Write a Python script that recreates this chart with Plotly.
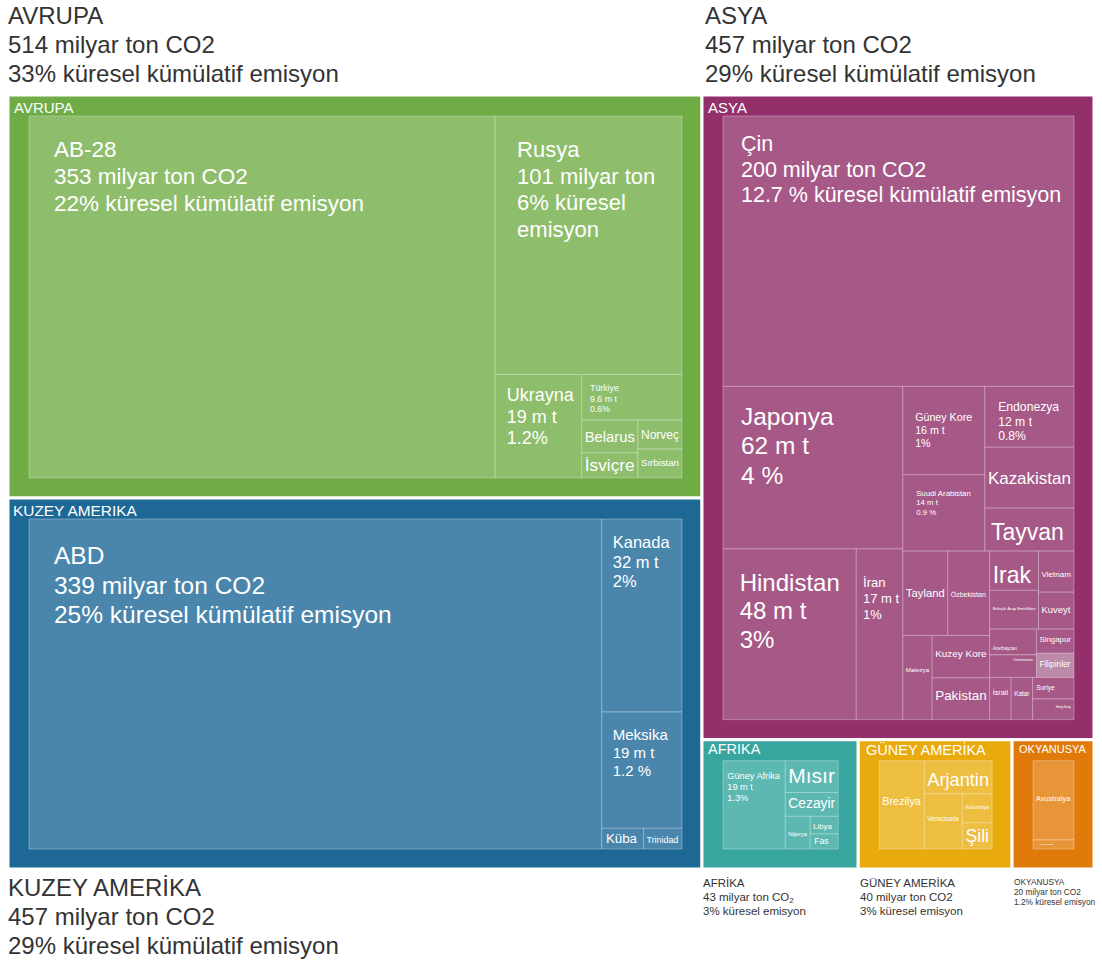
import math
import plotly.graph_objects as go

FONT = "Liberation Sans, Arial, Helvetica, sans-serif"

# ---------------------------------------------------------------- data
continents = ["AVRUPA", "KUZEY AMERIKA", "ASYA", "AFRIKA", "GÜNEY AMERİKA", "OKYANUSYA"]

europe = ["AB-28", "Rusya", "Ukrayna", "Türkiye", "Belarus", "İsviçre", "Norveç", "Sırbistan"]
europe_values = [358, 102.5, 19, 9.7, 3.9, 3.0, 2.7, 2.7]

north_america = ["ABD", "Kanada", "Meksika", "Küba", "Trinidad"]
north_america_values = [405, 33.2, 20, 1.85, 1.7]

asia = ["Çin", "Japonya", "Hindistan", "İran", "Güney Kore", "Suudi Arabistan",
        "Endonezya", "Kazakistan", "Tayvan", "Tayland", "Özbekistan", "Malezya",
        "Kuzey Kore", "Pakistan", "Irak", "Birleşik Arap Emirlikleri", "Vietnam",
        "Kuveyt", "Azerbaycan", "Türkmenistan", "Singapur", "Filipinler", "İsrail",
        "Katar", "Suriye", "Hong Kong"]
asia_values = [203, 62.5, 48.7, 17.0, 15.5, 13.4, 11.6, 11.6, 8.2, 8.1, 7.55, 5.28,
               5.21, 5.13, 4.1, 4.05, 3.12, 2.8, 2.58, 2.26, 1.94, 1.94, 1.94,
               1.94, 1.9, 1.83]

africa = ["Güney Afrika", "Mısır", "Cezayir", "Nijerya", "Libya", "Fas"]
africa_values = [19.6, 6.0, 4.5, 2.9, 1.75, 1.5]

south_america = ["Brezilya", "Arjantin", "Venezuela", "Kolombiya", "Şili"]
south_america_values = [14.27, 8.04, 7.52, 3.10, 2.77]

oceania = ["Avustralya", "Yeni Zelanda"]
oceania_values = [17.05, 1.95]

members = {
    "AVRUPA": (europe, europe_values),
    "KUZEY AMERIKA": (north_america, north_america_values),
    "ASYA": (asia, asia_values),
    "AFRIKA": (africa, africa_values),
    "GÜNEY AMERİKA": (south_america, south_america_values),
    "OKYANUSYA": (oceania, oceania_values),
}

# multi-line cell labels (others show just the name)
cell_lines = {
    "AB-28": ["AB-28", "353 milyar ton CO2", "22% küresel kümülatif emisyon"],
    "Rusya": ["Rusya", "101 milyar ton", "6% küresel", "emisyon"],
    "Ukrayna": ["Ukrayna", "19 m t", "1.2%"],
    "Türkiye": ["Türkiye", "9.6 m t", "0.6%"],
    "ABD": ["ABD", "339 milyar ton CO2", "25% küresel kümülatif emisyon"],
    "Kanada": ["Kanada", "32 m t", "2%"],
    "Meksika": ["Meksika", "19 m t", "1.2 %"],
    "Çin": ["Çin", "200 milyar ton CO2", "12.7 % küresel kümülatif emisyon"],
    "Japonya": ["Japonya", "62 m t", "4 %"],
    "Hindistan": ["Hindistan", "48 m t", "3%"],
    "İran": ["İran", "17 m t", "1%"],
    "Güney Kore": ["Güney Kore", "16 m t", "1%"],
    "Endonezya": ["Endonezya", "12 m t", "0.8%"],
    "Suudi Arabistan": ["Suudi Arabistan", "14 m t", "0.9 %"],
    "Güney Afrika": ["Güney Afrika", "19 m t", "1.3%"],
}

# captions outside the treemap
caption_titles = ["AVRUPA", "ASYA", "KUZEY AMERİKA", "AFRİKA", "GÜNEY AMERİKA", "OKYANUSYA"]
caption_amounts = ["514 milyar ton CO2", "457 milyar ton CO2", "457 milyar ton CO2",
                   "43 milyar ton CO<sub>2</sub>", "40 milyar ton CO2", "20 milyar ton CO2"]
caption_shares = ["33% küresel kümülatif emisyon", "29% küresel kümülatif emisyon",
                  "29% küresel kümülatif emisyon", "3% küresel emisyon",
                  "3% küresel emisyon", "1.2% küresel emisyon"]

# ---------------------------------------------------------------- styles
outer_color = {"AVRUPA": "#6fac45", "KUZEY AMERIKA": "#1e6896", "ASYA": "#93306c",
               "AFRIKA": "#39a59f", "GÜNEY AMERİKA": "#e9aa0e", "OKYANUSYA": "#e07b0b"}
inner_color = {"AVRUPA": "#8ebd6c", "KUZEY AMERIKA": "#4a86ac", "ASYA": "#a65987",
               "AFRIKA": "#5db8b2", "GÜNEY AMERİKA": "#eebe41", "OKYANUSYA": "#e8953a"}
special_color = {"Filipinler": "#bb8aa8"}

# font size, text offset x, cap-top offset y (px from cell corner)
cell_style = {
    "AB-28": (22.5, 25, 25), "Rusya": (22, 22, 26), "Ukrayna": (18, 11.7, 14),
    "Türkiye": (8.8, 8.3, 10), "Belarus": (16, 1, 10.7), "İsviçre": (19, 1, 5.6),
    "Norveç": (12, 1.7, 10), "Sırbistan": (9.8, 1.7, 10),
    "ABD": (24.5, 25, 27.6), "Kanada": (16.5, 11, 17), "Meksika": (15, 11, 17.4),
    "Küba": (14.5, 4.3, 5), "Trinidad": (8.9, 2.7, 7.3),
    "Çin": (21.5, 18, 19.3), "Japonya": (24.5, 18, 21), "Hindistan": (24, 16.7, 25),
    "İran": (13, 6.7, 29.5), "Güney Kore": (10.7, 12.3, 26.7),
    "Suudi Arabistan": (7.8, 13.3, 15.6), "Endonezya": (12.2, 13.3, 15.7),
    "Kazakistan": (18, 0, 26), "Tayvan": (23, 6, 12.4), "Tayland": (11.5, 2.3, 39),
    "Özbekistan": (7, 0.7, 40.7), "Malezya": (7.1, 0.7, 36.3), "Kuzey Kore": (11, 0, 15.6),
    "Pakistan": (13.7, 0, 12.2), "Irak": (24.5, 3.3, 16),
    "Birleşik Arap Emirlikleri": (4.9, 0.6, 18.7), "Vietnam": (9, 1.6, 22),
    "Kuveyt": (11.5, 0.6, 16.8), "Azerbaycan": (4.6, 0.6, 17),
    "Türkmenistan": (3.3, 23.5, 3), "Singapur": (9.2, 1.7, 7.3),
    "Filipinler": (9.7, 2.4, 8.4), "İsrail": (11, 1.6, 16), "Katar": (8.3, 1.7, 17.3),
    "Suriye": (6.5, 3.5, 8), "Hong Kong": (3.2, 24.5, 8),
    "Güney Afrika": (9.2, 4.3, 11.7), "Mısır": (23, 0, 7.7), "Cezayir": (15.3, 0, 5),
    "Nijerya": (7, 1.3, 17.3), "Libya": (10, 1.6, 7.7), "Fas": (11.4, 4.3, 4),
    "Brezilya": (11.7, 1.6, 40), "Arjantin": (18.2, 1.6, 10.3),
    "Venezuela": (7.7, 0.3, 25), "Kolombiya": (5.4, 1.3, 13), "Şili": (17.7, 3, 6.3),
    "Avustralya": (7.9, 0.7, 38.3), "Yeni Zelanda": (4.1, 7.3, 3.3),
}

header_style = {  # left, cap top, font size (page px)
    "AVRUPA": (13.5, 101.4, 15), "KUZEY AMERIKA": (13, 505, 15.4),
    "ASYA": (708, 101.4, 15), "AFRIKA": (708.3, 744, 14.5),
    "GÜNEY AMERİKA": (866, 743.3, 14.5), "OKYANUSYA": (1019.3, 745, 11),
}
caption_style = [(8.3, 6.7, 24), (705, 6.7, 24), (8.3, 879, 24),
                 (702.7, 879.3, 11.5), (860, 879.3, 11.5), (1014, 878.3, 8.3)]

LINE_HEIGHT = 1.2          # line pitch / font size used in the reference
PLOTLY_PITCH = 1.3         # plotly's own line pitch (em)

# geometry: the hidden root keeps a padding ring, so the figure is shifted
# 13px left on the page and the root is sized so the continents land on
# page x 8..1094, y 95..869.
PAD = dict(t=21, l=21, r=20, b=20)
SHIFT_X = -13
W, H = 1127, 965
ML, MR, MT, MB = 0, 0, 74, 76
PW, PH = W - ML - MR, H - MT - MB
NBSP = "\u00a0"


def sized(txt, fs):
    return '<span style="font-size:%.2fpx">%s</span>' % (fs, txt)


def cell_text(lines, fs, dx, dy):
    gap = dx - 3.0
    indent = ""
    if gap > 0.4:
        k = max(1, math.ceil(gap / (0.278 * fs)))
        indent = sized(NBSP * k, gap / (0.278 * k))
    body = "<br>".join(indent + sized(ln, fs) for ln in lines)
    plain = 3.0 + 0.189 * fs
    blank0 = 3.0 + (LINE_HEIGHT - 0.716) * fs
    if dy <= plain:
        return body
    s = (dy - blank0) / 0.905
    if s < 0.6:
        if (dy - plain) < (blank0 + 0.905 * 0.6 - dy):
            return body
        s = 0.6
    return sized(NBSP, s) + "<br>" + body


ids, labels, parents, values, colors, texts = [], [], [], [], [], []
sizes, text_colors, line_colors, line_widths = [], [], [], []
for cont in continents:
    ids.append(cont)
    labels.append(cont)
    parents.append("")
    values.append(0)
    colors.append(outer_color[cont])
    texts.append(NBSP)
    sizes.append(1)
    text_colors.append("rgba(0,0,0,0)")
    line_colors.append("#ffffff")
    line_widths.append(3)
for cont in continents:
    names, vals = members[cont]
    for name, val in zip(names, vals):
        fs, dx, dy = cell_style[name]
        ids.append(cont + "/" + name)
        labels.append(name)
        parents.append(cont)
        values.append(val)
        colors.append(special_color.get(name, inner_color[cont]))
        texts.append(cell_text(cell_lines.get(name, [name]), fs, dx, dy))
        sizes.append(fs * LINE_HEIGHT / PLOTLY_PITCH)
        text_colors.append("#ffffff")
        line_colors.append("rgba(255,255,255,0.3)")
        line_widths.append(1)

fig = go.Figure(go.Treemap(
    ids=ids, labels=labels, parents=parents, values=values,
    branchvalues="remainder", sort=True,
    text=texts, textinfo="text", textposition="top left",
    textfont=dict(family=FONT, size=sizes, color=text_colors),
    marker=dict(colors=colors, line=dict(color=line_colors, width=line_widths),
                pad=PAD, depthfade=False),
    tiling=dict(packing="binary", pad=0),
    pathbar=dict(visible=False),
    root=dict(color="rgba(0,0,0,0)"),
    hoverinfo="skip",
))


def page_text(lines, left, cap_top, fs, color):
    top = cap_top - 0.189 * fs
    if len(lines) > 1:
        text = "<br>".join(sized(ln, fs) for ln in lines)
        base = fs * LINE_HEIGHT / PLOTLY_PITCH
    else:
        text, base = lines[0], fs
    return dict(text=text, xref="paper", yref="paper",
                x=(left - SHIFT_X - ML) / PW, y=1 - (top - MT) / PH,
                xanchor="left", yanchor="top", align="left", showarrow=False,
                borderpad=0, borderwidth=0,
                font=dict(family=FONT, size=base, color=color))


annotations = []
for cont in continents:
    left, cap, fs = header_style[cont]
    annotations.append(page_text([cont], left, cap, fs, "#ffffff"))
for title, amount, share, (left, cap, fs) in zip(caption_titles, caption_amounts,
                                                 caption_shares, caption_style):
    annotations.append(page_text([title, amount, share], left, cap, fs, "#333333"))

fig.update_layout(
    width=W, height=H,
    margin=dict(l=ML, r=MR, t=MT, b=MB, pad=0),
    paper_bgcolor="#ffffff", plot_bgcolor="#ffffff",
    font=dict(family=FONT),
    annotations=annotations,
    showlegend=False,
)

page_css = ("document.documentElement.style.overflow='hidden';"
            "document.body.style.overflow='hidden';"
            "document.body.style.margin='0 0 0 %dpx';" % SHIFT_X)
fig.write_html("out.html", config={"displayModeBar": False}, post_script=page_css)
